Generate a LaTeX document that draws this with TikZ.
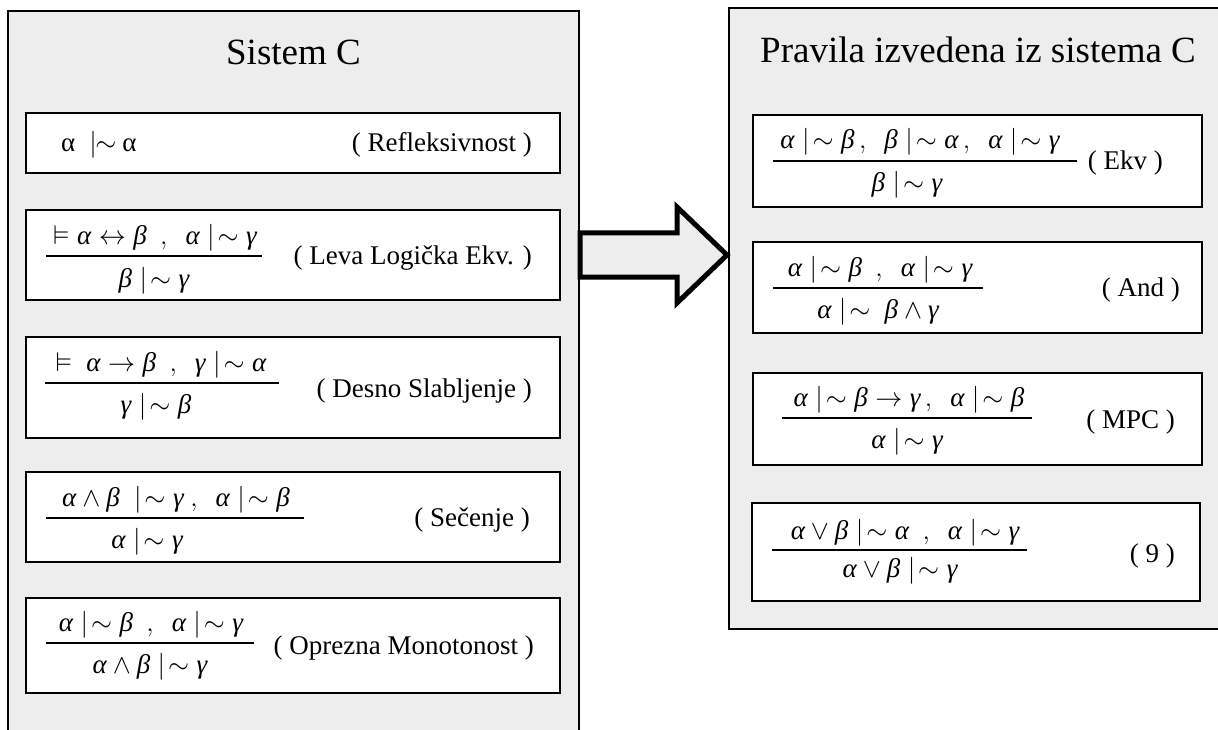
\RequirePackage{fix-cm}
\documentclass[tikz,border=0pt]{standalone}
\usepackage{fontspec}
\setmainfont{Liberation Serif}
\usepackage{amssymb}

% Greek letters and the "nonmonotonic consequence" relation
\newcommand{\ga}{\mbox{\itshape α}}
\newcommand{\be}{\mbox{\itshape β}}
\newcommand{\gm}{\mbox{\itshape γ}}
\newcommand{\nv}{\mathrel{|\!\sim}}

\definecolor{speck}{gray}{0.93}

\tikzset{
  panel/.style={draw=black, line width=2.6pt, fill=speck, inner sep=0pt},
  rbox/.style={draw=black, line width=2.2pt, fill=white, inner sep=0pt},
  frule/.style={line width=2pt},
  ftxt/.style={font=\fontsize{27}{32}\selectfont, inner sep=0pt, anchor=base},
  lbl/.style={font=\fontsize{27}{32}\selectfont, inner sep=0pt, anchor=base east},
  ttl/.style={font=\fontsize{37}{44}\selectfont, inner sep=0pt, anchor=base},
  bigarrow/.style={draw=black, line width=5pt, fill=speck, line join=miter},
}

\begin{document}
\begin{tikzpicture}[x=1pt,y=-1pt]
\useasboundingbox (0,0) rectangle (1218,730);
\clip (0,0) rectangle (1218,730);
\fill[white] (0,0) rectangle (1218,730);

% ---------- left panel: Sistem C ----------
\node[panel, minimum width=571pt, minimum height=729pt] (lp) at (293.5,375.5) {};
\node[ttl] (lt) at (293.5,65) {Sistem C};

% Refleksivnost
\node[rbox, minimum width=534pt, minimum height=60pt] (b1) at (293,143) {};
\node[ftxt, anchor=base west] (b1f) at (61,152) {α\hspace{14pt}$|\!\!\sim$\hspace{6pt}α};
\node[lbl] (b1l) at (532,152) {( Refleksivnost )};

% Leva logicka ekvivalencija
\node[rbox, minimum width=534pt, minimum height=90pt] (b2) at (293,255) {};
\node[ftxt] (b2n) at (155,244) {$\vDash\ga\leftrightarrow\be\ \ ,\ \ \ga\nv\gm$};
\draw[frule] (46,256) -- (262,256);
\node[ftxt] (b2d) at (154,287) {$\be\nv\gm$};
\node[lbl] (b2l) at (532,264) {( Leva Logička Ekv. )};

% Desno slabljenje
\node[rbox, minimum width=534pt, minimum height=101pt] (b3) at (293,387.5) {};
\node[ftxt] (b3n) at (161,371) {$\vDash\ \ga\to\be\ \ ,\ \ \gm\nv\ga$};
\draw[frule] (45,383) -- (279,383);
\node[ftxt] (b3d) at (156,413) {$\gm\nv\be$};
\node[lbl] (b3l) at (532,397) {( Desno Slabljenje )};

% Secenje
\node[rbox, minimum width=534pt, minimum height=90pt] (b4) at (293,517) {};
\node[ftxt] (b4n) at (176,506) {$\ga\wedge\be\ \nv\gm\ ,\ \ \ga\nv\be$};
\draw[frule] (46,518) -- (304,518);
\node[ftxt] (b4d) at (147,548) {$\ga\nv\gm$};
\node[lbl] (b4l) at (530,526) {( Sečenje )};

% Oprezna monotonost
\node[rbox, minimum width=534pt, minimum height=95pt] (b5) at (293,645.5) {};
\node[ftxt] (b5n) at (151,631) {$\ga\nv\be\ \ ,\ \ \ga\nv\gm$};
\draw[frule] (46,643) -- (254,643);
\node[ftxt] (b5d) at (150,673) {$\ga\wedge\be\nv\gm$};
\node[lbl] (b5l) at (534,654) {( Oprezna Monotonost )};

% ---------- right panel: derived rules ----------
\node[panel, minimum width=491pt, minimum height=621pt] (rp) at (974.5,318.5) {};
\node[ttl] (rt) at (978,63) {Pravila izvedena iz sistema C};

% Ekv
\node[rbox, minimum width=449pt, minimum height=92pt] (r1) at (977.5,161) {};
\node[ftxt] (r1n) at (920,149) {$\ga\nv\be\,,\ \ \be\nv\ga\,,\ \ \ga\nv\gm$};
\draw[frule] (773,161) -- (1077,161);
\node[ftxt] (r1d) at (907,192) {$\be\nv\gm$};
\node[lbl] (r1l) at (1163,170) {( Ekv )};

% And
\node[rbox, minimum width=449pt, minimum height=91pt] (r2) at (977.5,287.5) {};
\node[ftxt] (r2n) at (880,276) {$\ga\nv\be\ \ ,\ \ \ga\nv\gm$};
\draw[frule] (773,288) -- (983,288);
\node[ftxt] (r2d) at (878,318) {$\ga\nv\ \be\wedge\gm$};
\node[lbl] (r2l) at (1180,296) {( And )};

% MPC
\node[rbox, minimum width=449pt, minimum height=92pt] (r3) at (977.5,419) {};
\node[ftxt] (r3n) at (909,406) {$\ga\nv\be\to\gm\,,\ \ \ga\nv\be$};
\draw[frule] (782,418) -- (1032,418);
\node[ftxt] (r3d) at (907,448) {$\ga\nv\gm$};
\node[lbl] (r3l) at (1175,428) {( MPC )};

% (9)
\node[rbox, minimum width=448pt, minimum height=98pt] (r4) at (976,552) {};
\node[ftxt] (r4n) at (905,539) {$\ga\vee\be\nv\ga\ \ ,\ \ \ga\nv\gm$};
\draw[frule] (772,550) -- (1027,550);
\node[ftxt] (r4d) at (900,577) {$\ga\vee\be\nv\gm$};
\node[lbl] (r4l) at (1175,562) {( 9 )};

% ---------- block arrow between the panels ----------
\draw[bigarrow] (580,233) -- (677,233) -- (677,207) -- (727,255)
  -- (677,303) -- (677,277) -- (580,277) -- cycle;
\end{tikzpicture}
\end{document}
